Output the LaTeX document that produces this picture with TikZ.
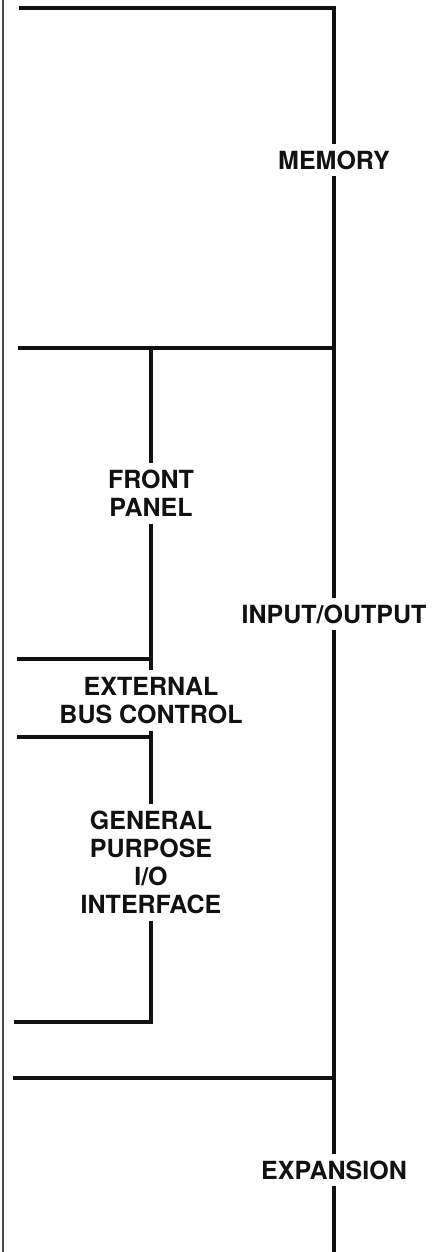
\documentclass[tikz,border=0pt]{standalone}
\usepackage{fontspec}
\setmainfont{TeX Gyre Heros}
\definecolor{bdInk}{HTML}{111111}
\definecolor{bdEdge}{HTML}{4A4A4A}
\tikzset{
  bd bus/.style={draw=bdInk, line width=3.6pt},
  bd edge/.style={draw=bdEdge, line width=1.8pt},
  bd label/.style={font=\fontsize{25}{28}\selectfont\bfseries, text=bdInk, align=center, inner xsep=2pt, inner ysep=7pt, outer sep=0pt},
}
\begin{document}
\begin{tikzpicture}[x=1pt,y=-1pt]
\useasboundingbox (0,0) rectangle (441,1252);
\draw[bd edge](3,0)--(3,1252);
% main bus
\coordinate (topL) at (19,8);
\coordinate (topR) at (334,8);
\coordinate (memL) at (18,348);
\coordinate (memR) at (334,348);
\coordinate (expL) at (13,1078);
\coordinate (expR) at (334,1078);
\coordinate (busEnd) at (334,1252);
\node[bd label] (mem) at (334,160) {MEMORY};
\node[bd label] (io) at (334,614) {INPUT/OUTPUT};
\node[bd label] (exp) at (334,1170) {EXPANSION};
\draw[bd bus,line join=miter](topL)--(topR)--(mem);
\draw[bd bus](mem)--(memR)--(io);
\draw[bd bus](io)--(expR)--(exp);
\draw[bd bus](exp)--(busEnd);
\draw[bd bus](memL)--(memR);
\draw[bd bus](expL)--(expR);
% front panel branch
\coordinate (fpTop) at (151,348);
\coordinate (ebcTopL) at (17,659);
\coordinate (ebcTopR) at (151,659);
\coordinate (ebcBotL) at (17,737);
\coordinate (ebcBotR) at (151,737);
\coordinate (gpBotL) at (14,1022);
\coordinate (gpBotR) at (151,1022);
\node[bd label] (fp) at (151,493.5) {FRONT\\PANEL};
\node[bd label] (ebc) at (151,700.5) {EXTERNAL\\BUS CONTROL};
\node[bd label] (gp) at (151,862.5) {GENERAL\\PURPOSE\\I/O\\INTERFACE};
\draw[bd bus](fpTop)--(fp);
\draw[bd bus](fp)--(ebcTopR)--(ebc);
\draw[bd bus](ebc)--(ebcBotR)--(gp);
\draw[bd bus,line join=miter](gp)--(gpBotR)--(gpBotL);
\draw[bd bus](ebcTopL)--(ebcTopR);
\draw[bd bus](ebcBotL)--(ebcBotR);
\end{tikzpicture}
\end{document}
